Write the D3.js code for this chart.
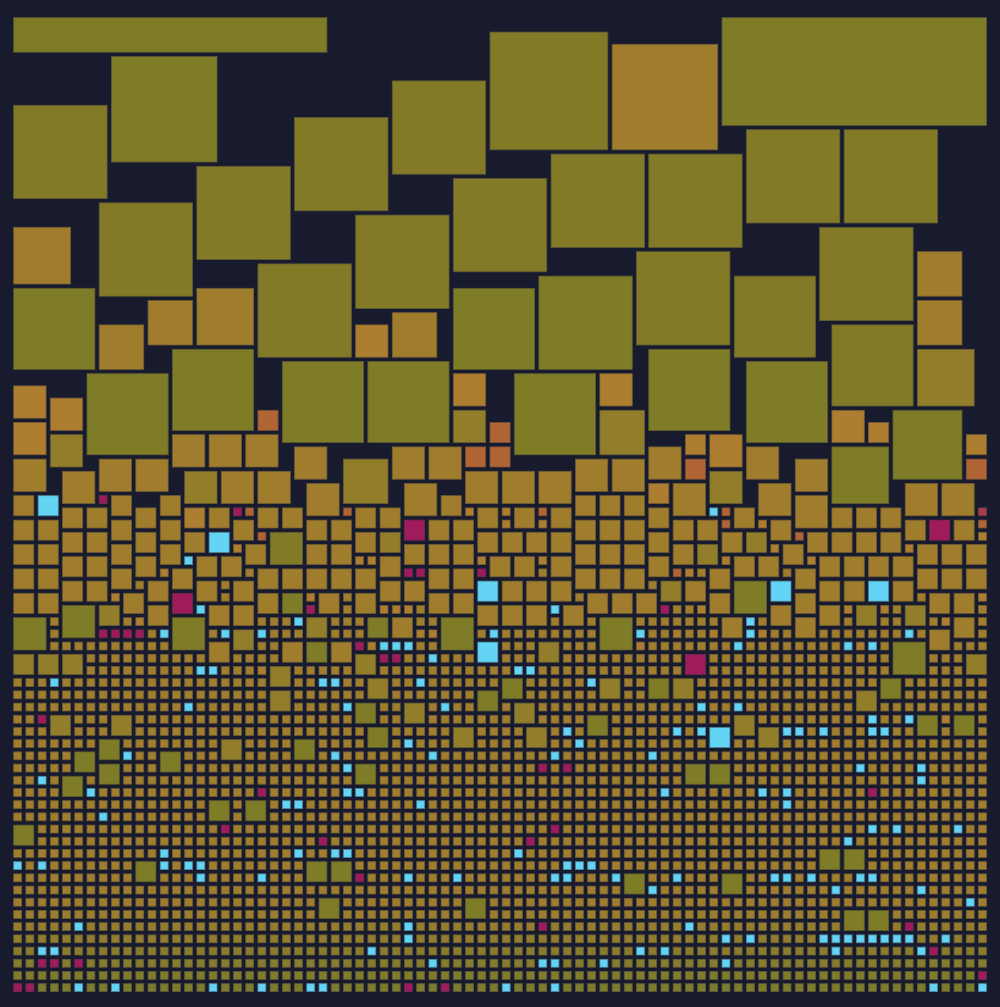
<!DOCTYPE html>
<html><head><meta charset="utf-8">
<script src="https://cdnjs.cloudflare.com/ajax/libs/d3/7.8.5/d3.min.js"></script>
<style>html,body{margin:0;padding:0;background:#181a2e}svg{display:block}</style>
</head><body><svg id="c" width="1000" height="1007"></svg>
<script>
const colCount = 80, rowCount = 80;
// Tiles as [column, row, span] in units of the 80 x 80 grid, grouped by colour class
const bannerTiles = [[0,26,3],[58,22,9]]; // [column, column span, rows down from the top edge]
const oliveTiles = [[8,3,9],[0,22,7],[13,27,7],[6,29,7],[22,28,7],[29,28,7],[36,22,7],[41,29,7],[52,27,7],[60,28,7],[43,21,8],[72,32,6],[67,35,5],[4,48,3],[0,49,3],[13,49,3],[48,49,3],[35,49,3],[59,46,3],[72,51,3],[0,66,2],[23,59,2],[71,54,2],[77,57,2],[50,70,2],[24,51,2],[22,47,2],[29,49,2],[68,73,2],[70,73,2],[55,61,2],[57,61,2],[28,61,2],[28,56,2],[47,57,2],[26,69,2],[24,69,2],[10,69,2],[38,55,2],[37,72,2],[58,70,2],[7,59,2],[7,61,2],[16,64,2],[19,64,2],[29,58,2],[66,68,2],[68,68,2],[12,60,2],[40,54,2],[52,54,2],[74,57,2],[25,72,2],[5,60,2],[4,62,2]];
const khakiTiles = [[39,1,10],[0,7,8],[23,8,8],[15,12,8],[7,15,8],[20,20,8],[31,5,8],[60,9,8],[68,9,8],[44,11,8],[52,11,8],[36,13,8],[28,16,8],[66,17,8],[51,19,8],[59,21,7],[67,25,7],[21,42,3]];
const midTiles = [[74,27,5],[48,32,4],[27,36,4],[36,32,3],[3,34,3],[14,37,3],[57,37,3],[7,48,2],[24,49,2],[18,50,2],[0,52,2],[2,52,2],[4,52,2],[21,53,2],[21,55,2],[30,42,2],[43,51,2],[28,52,2],[60,42,2],[56,43,2],[53,46,2],[69,48,2],[73,48,2],[78,52,2],[29,54,2],[48,54,2],[54,54,2],[69,55,2],[61,58,2],[42,58,2],[36,58,2],[41,56,2],[32,56,2],[59,57,2],[3,57,2],[8,57,2],[17,59,2]];
const goldTiles = [[49,2,9],[0,17,5],[15,22,5],[74,19,4],[74,23,4],[7,25,4],[11,23,4],[31,24,4],
 [0,36,3],[4,37,3],[7,36,3],[10,36,3],[13,34,3],[16,34,3],[19,34,3],[23,35,3],[24,38,3],[31,35,3],[34,35,3],[32,38,3],[37,37,3],[40,37,3],[43,37,3],[46,36,3],[49,36,3],[52,35,3],[54,38,3],[60,35,3],[61,38,3],[64,36,3],[64,39,3],[73,38,3],[76,38,3],[17,37,3],[20,37,3],
 [0,39,2],[8,39,2],[12,39,2],[4,40,2],[6,40,2],[10,40,2],[16,40,2],[20,40,2],[22,40,2],[0,41,2],[2,41,2],[8,41,2],[12,41,2],[18,41,2],[24,41,2],[26,41,2],[4,42,2],[6,42,2],[10,42,2],[14,42,2],[0,43,2],[2,43,2],[8,43,2],[12,43,2],[19,43,2],[24,43,2],[26,43,2],[4,44,2],[6,44,2],[10,44,2],[15,44,2],[17,44,2],[0,45,2],[2,45,2],[8,45,2],[13,45,2],[20,45,2],[22,45,2],[24,45,2],[26,45,2],[4,46,2],[6,46,2],[11,46,2],[15,46,2],[18,46,2],[0,47,2],[2,47,2],[9,47,2],[20,47,2],[25,47,2],[11,48,2],[16,48,2],[18,48,2],[16,51,2],[22,51,2],
 [35,39,2],[46,39,2],[48,39,2],[50,39,2],[28,40,2],[30,40,2],[38,40,2],[41,40,2],[44,40,2],[52,40,2],[34,41,2],[36,41,2],[46,41,2],[48,41,2],[50,41,2],[28,42,2],[38,42,2],[40,42,2],[42,42,2],[44,42,2],[52,42,2],[32,43,2],[34,43,2],[36,43,2],[46,43,2],[48,43,2],[50,43,2],[30,44,2],[39,44,2],[41,44,2],[44,44,2],[52,44,2],[28,45,2],[34,45,2],[36,45,2],[46,45,2],[48,45,2],[50,45,2],[30,46,2],[32,46,2],[40,46,2],[42,46,2],[44,46,2],[28,47,2],[34,47,2],[36,47,2],[47,47,2],[49,47,2],[51,47,2],[38,48,2],[40,48,2],[42,48,2],[45,48,2],[31,49,2],[26,51,2],
 [59,40,2],[67,40,2],[69,40,2],[71,40,2],[54,41,2],[56,41,2],[62,41,2],[73,41,2],[77,41,2],[58,42,2],[65,42,2],[67,42,2],[69,42,2],[71,42,2],[54,43,2],[63,43,2],[74,43,2],[76,43,2],[78,43,2],[59,44,2],[61,44,2],[66,44,2],[68,44,2],[70,44,2],[72,44,2],[57,45,2],[64,45,2],[74,45,2],[76,45,2],[78,45,2],[55,46,2],[66,46,2],[68,46,2],[72,46,2],[57,47,2],[64,47,2],[75,47,2],[77,47,2],[62,48,2],[66,48,2],[58,49,2],[64,49,2],[77,49,2],[75,50,2],
 [19,45,1],[17,46,1],[17,47,1],[10,46,1],[52,46,1],[27,47,1],[27,48,1],[46,47,1],[33,48,1],[43,45,1],[56,45,1],[63,45,1],[74,47,1],[54,48,1],[55,48,1],[72,48,1],[79,48,1]];
const amberTiles = [[0,30,3],[3,31,3],[0,33,3],[28,25,3],[36,29,3],[48,29,3],[67,32,3],[57,34,3],[14,40,2],[70,33,2],[55,34,2],[78,34,2],[52,38,2],
 [10,49,1],[12,45,1],[8,47,1],[18,43,1],[24,47,1],[29,51,1],[33,50,1],[34,50,1],[28,44,1],[29,44,1],[30,48,1],[31,48,1],[32,48,1],[37,40,1],[40,40,1],[40,41,1],[43,41,1],[38,44,1],[43,44,1],[51,51,1],[20,53,1],[54,50,1],[57,50,1],[61,50,1],[61,41,1],[62,43,1],[73,43,1],[58,44,1],[65,44,1],[55,45,1],[56,48,1],[68,48,1],[71,48,1],[76,49,1],[69,51,1],[79,42,1],[79,47,1],[76,57,1]];
const rustTiles = [[20,32,2],[37,35,2],[39,35,2],[39,33,2],[55,36,2],[78,36,2],[19,40,1],[20,42,1],[27,40,1],[43,40,1],[54,45,1],[58,40,1],[58,41,1],[79,41,1],[64,42,1]];
const redTiles = [[79,40,1]];
const magentaTiles = [[13,47,2],[32,41,2],[75,41,2],[55,52,2],
 [7,39,1],[18,40,1],[24,48,1],[7,50,1],[8,50,1],[9,50,1],[10,50,1],[28,51,1],[30,52,1],[31,52,1],[32,45,1],[33,45,1],[38,45,1],[53,48,1],[2,57,1],[20,63,1],[17,66,1],[25,67,1],[2,77,1],[3,77,1],[5,77,1],[0,79,1],[1,79,1],[43,61,1],[45,61,1],[44,66,1],[42,67,1],[28,70,1],[43,74,1],[32,79,1],[35,79,1],[70,63,1],[73,74,1],[75,76,1],[79,78,1]];
const cyanTiles = [[2,39,2],[16,42,2],[38,46,2],[38,51,2],[62,46,2],[70,46,2],[57,58,2],
 [14,44,1],[15,48,1],[23,49,1],[12,50,1],[17,50,1],[20,50,1],[15,53,1],[16,53,1],[3,54,1],[25,54,1],[26,54,1],[14,56,1],[9,60,1],[26,60,1],[2,62,1],[6,63,1],[22,64,1],[23,64,1],[7,65,1],[12,68,1],[23,68,1],[26,68,1],[0,69,1],[2,69,1],[12,69,1],[14,69,1],[15,69,1],[15,70,1],[20,70,1],[5,74,1],[2,76,1],[3,76,1],[5,79,1],[8,79,1],[16,79,1],[20,79,1],[24,79,1],[25,79,1],
 [44,48,1],[39,50,1],[51,50,1],[30,51,1],[31,51,1],[32,51,1],[34,52,1],[41,53,1],[42,53,1],[33,54,1],[47,54,1],[27,56,1],[35,56,1],[45,58,1],[32,59,1],[46,59,1],[34,60,1],[44,60,1],[52,60,1],[27,61,1],[27,63,1],[28,63,1],[53,63,1],[33,64,1],[27,68,1],[41,68,1],[45,69,1],[46,69,1],[47,69,1],[32,70,1],[36,70,1],[44,70,1],[45,70,1],[49,70,1],[52,71,1],[32,74,1],[32,75,1],[29,76,1],[51,76,1],[53,76,1],[34,77,1],[43,77,1],[44,77,1],[48,77,1],[40,79,1],[44,79,1],
 [57,40,1],[60,49,1],[60,50,1],[73,50,1],[59,51,1],[68,51,1],[70,51,1],[56,56,1],[59,56,1],[70,57,1],[73,57,1],[54,58,1],[56,58,1],[63,58,1],[64,58,1],[66,58,1],[70,58,1],[71,58,1],[69,61,1],[74,61,1],[74,62,1],[61,63,1],[63,63,1],[63,64,1],[70,66,1],[72,66,1],[77,66,1],[68,67,1],[54,70,1],[62,70,1],[63,70,1],[65,70,1],[69,70,1],[70,70,1],[67,71,1],[74,71,1],[78,72,1],[55,74,1],[58,75,1],[60,75,1],[66,75,1],[67,75,1],[68,75,1],[69,75,1],[70,75,1],[71,75,1],[72,75,1],[73,75,1],[76,75,1],[67,76,1],[74,76,1],[58,77,1],[75,79,1],[79,79,1]];
// Tone of the plain small cells per row, 0 = gold, 1 = olive; rows 49..79
const firstPlainRow = 49;
const rowTones = [0,0,0,0,0,0,0,0,0,0,0,0,0,0,0,0,0,0,0,0,0,0,0,0.05,0.1,0.3,0.4,0.6,0.75,0.9,1];

const colours = {olive:"#7e7c26",khaki:"#827a27",mid:"#927d2b",gold:"#a07d2d",amber:"#ae7e30",rust:"#b16535",red:"#a83c4b",magenta:"#9f1b5c",cyan:"#63d4f4"};
const background = "#181a2e";
const gap = 3.5;
const x = d3.scaleBand().domain(d3.range(colCount)).range([13.3,990.3]).padding(0);
const y = d3.scaleLinear().domain([0,rowCount]).range([19.5,995.5]);
const step = x.step(), rowStep = y(1)-y(0);
const tone = d3.scaleLinear().domain([0,1]).range(["#a07e2e","#7d7b2c"]);

const groups = [["olive",oliveTiles],["khaki",khakiTiles],["mid",midTiles],["gold",goldTiles],["amber",amberTiles],["rust",rustTiles],["red",redTiles],["magenta",magentaTiles],["cyan",cyanTiles]];
const tiles = [];
const taken = new Set();
for (const [name,list] of groups) for (const [c,r,s] of list) {
  tiles.push({c,r,w:s,h:s,fill:colours[name]});
  for (let i=0;i<s;i++) for (let j=0;j<s;j++) taken.add((c+i)+","+(r+j));
}
for (const [c,w,h] of bannerTiles) {
  tiles.push({c,r:-0.18,w,h:h+0.18,fill:colours.olive});
  for (let i=0;i<w;i++) for (let j=0;j<h;j++) taken.add((c+i)+","+j);
}
rowTones.forEach((t,k)=>{
  const r = firstPlainRow+k;
  for (const c of d3.range(colCount)) if(!taken.has(c+","+r)) tiles.push({c,r,w:1,h:1,fill:tone(t)});
});
d3.select("#c").append("rect").attr("width",1000).attr("height",1007).attr("fill",background);
const sw = 0.8;
d3.select("#c").selectAll("rect.t").data(tiles).join("rect").attr("class","t")
 .attr("x",d=>x(d.c)+sw/2).attr("y",d=>y(d.r)+sw/2)
 .attr("width",d=>d.w*step-gap-sw).attr("height",d=>d.h*rowStep-gap-sw)
 .attr("fill",d=>d.fill)
 .attr("stroke",d=>d3.interpolateRgb(d.fill,"#3a3a40")(0.5)).attr("stroke-width",sw);
</script></body></html>
